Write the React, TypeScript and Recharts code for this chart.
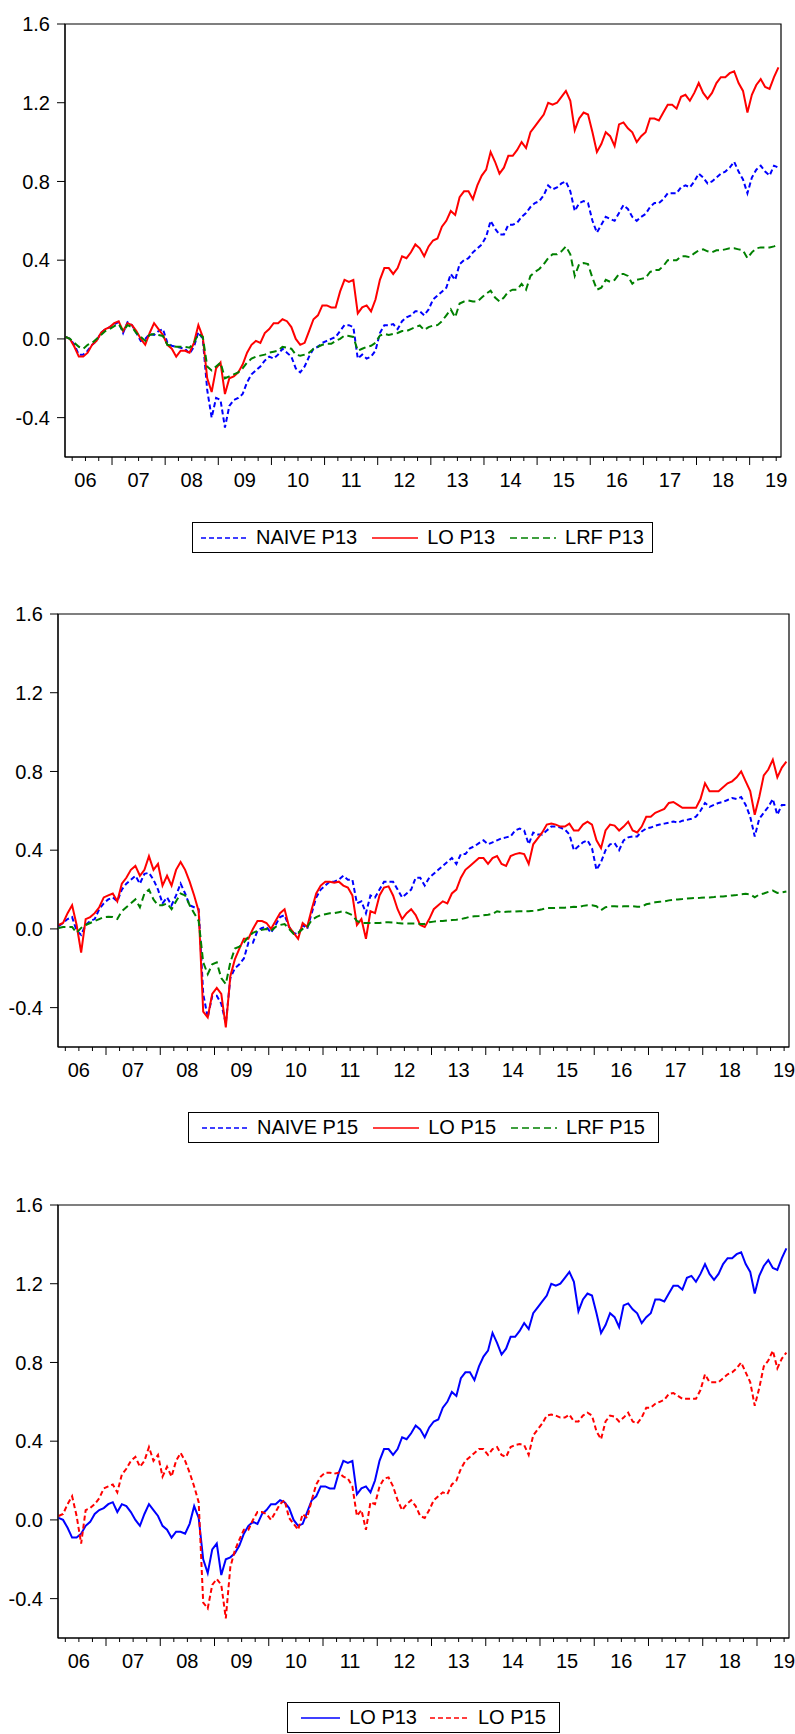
import React from 'react'
import { LineChart, Line, XAxis, YAxis, ReferenceArea } from 'recharts'

// monthly readings, Feb 2006 .. Jul 2019 (162 points)
const START = 2006 + 1.5 / 12

const NAIVE_P13 = [
  0.01, 0.0, -0.03, -0.08, -0.08, -0.06, -0.03, -0.01, 0.03, 0.05,
  0.06, 0.075, 0.085, 0.03, 0.085, 0.07, 0.03, -0.01, 0.0, 0.025,
  0.02, 0.04, 0.05, -0.02, -0.035, -0.04, -0.045, -0.05, -0.075, -0.04,
  0.035, 0.0, -0.26, -0.4, -0.3, -0.31, -0.45, -0.34, -0.31, -0.3,
  -0.28, -0.22, -0.18, -0.16, -0.14, -0.11, -0.09, -0.1, -0.08, -0.05,
  -0.07, -0.09, -0.15, -0.17, -0.14, -0.09, -0.05, -0.04, -0.02, -0.01,
  0.0, 0.01, 0.04, 0.07, 0.07, 0.06, -0.1, -0.08, -0.1, -0.09,
  -0.06, 0.03, 0.07, 0.07, 0.075, 0.05, 0.09, 0.11, 0.12, 0.14,
  0.14, 0.12, 0.15, 0.2, 0.22, 0.24, 0.26, 0.33, 0.3, 0.38,
  0.4, 0.41, 0.44, 0.46, 0.48, 0.52, 0.6, 0.56, 0.53, 0.53,
  0.58, 0.58, 0.59, 0.62, 0.64, 0.67, 0.69, 0.7, 0.73, 0.78,
  0.76, 0.77, 0.79, 0.8, 0.75, 0.65, 0.69, 0.7, 0.69, 0.6,
  0.54, 0.58, 0.62, 0.61, 0.6, 0.64, 0.68, 0.66, 0.62, 0.6,
  0.62, 0.635, 0.67, 0.69, 0.69, 0.71, 0.74, 0.74, 0.74, 0.77,
  0.78, 0.77, 0.8, 0.84, 0.82, 0.79, 0.8, 0.82, 0.84, 0.85,
  0.87, 0.9, 0.85, 0.81, 0.74, 0.82, 0.86, 0.88, 0.85, 0.83,
  0.88, 0.87,
]

const LO_P13 = [
  0.01, 0.0, -0.04, -0.09, -0.09, -0.07, -0.03, -0.01, 0.03, 0.05,
  0.06, 0.08, 0.09, 0.04, 0.08, 0.07, 0.04, 0.0, -0.03, 0.03,
  0.08, 0.05, 0.02, -0.03, -0.05, -0.09, -0.06, -0.06, -0.07, -0.02,
  0.07, 0.01, -0.2, -0.27, -0.15, -0.12, -0.28, -0.2, -0.19, -0.17,
  -0.13, -0.07, -0.03, -0.01, -0.02, 0.03, 0.05, 0.08, 0.08, 0.1,
  0.09, 0.06, 0.0, -0.03, -0.02, 0.04, 0.1, 0.12, 0.17, 0.17,
  0.16, 0.16, 0.24, 0.3, 0.29, 0.3, 0.13, 0.16, 0.17, 0.14,
  0.2, 0.3, 0.36, 0.36, 0.33, 0.36, 0.42, 0.41, 0.44, 0.48,
  0.46, 0.42, 0.47, 0.5, 0.51, 0.57, 0.6, 0.65, 0.63, 0.72,
  0.75, 0.75, 0.71, 0.78, 0.83, 0.86, 0.95, 0.9, 0.84, 0.87,
  0.93, 0.93, 0.96, 1.0, 0.97, 1.05, 1.08, 1.11, 1.14, 1.2,
  1.19, 1.2, 1.23, 1.26, 1.21, 1.06, 1.12, 1.15, 1.14, 1.05,
  0.95, 0.99, 1.05, 1.03, 0.98, 1.09, 1.1, 1.07, 1.05, 1.0,
  1.03, 1.05, 1.12, 1.12, 1.11, 1.15, 1.19, 1.19, 1.17, 1.23,
  1.24, 1.21, 1.25, 1.3, 1.25, 1.22, 1.25, 1.3, 1.33, 1.33,
  1.35, 1.36, 1.3, 1.26, 1.15, 1.24, 1.29, 1.32, 1.28, 1.27,
  1.33, 1.38,
]

const LRF_P13 = [
  0.01, 0.0, -0.02, -0.04, -0.05, -0.03, -0.02, 0.0, 0.02, 0.04,
  0.05, 0.065, 0.075, 0.04, 0.07, 0.06, 0.03, 0.01, -0.01, 0.02,
  0.025, 0.02, 0.015, -0.03, -0.035, -0.04, -0.04, -0.04, -0.045, -0.02,
  0.025, 0.01, -0.14, -0.16, -0.14, -0.12, -0.2, -0.19, -0.18, -0.17,
  -0.15, -0.12, -0.1, -0.09, -0.085, -0.08, -0.07, -0.065, -0.06, -0.04,
  -0.045, -0.05, -0.08, -0.085, -0.08, -0.07, -0.05, -0.04, -0.03, -0.025,
  -0.025, -0.01, 0.0, 0.017, 0.015, 0.01, -0.06, -0.05, -0.04, -0.035,
  -0.02, 0.017, 0.025, 0.02, 0.025, 0.03, 0.04, 0.04, 0.05, 0.06,
  0.068, 0.045, 0.06, 0.068, 0.07, 0.09, 0.12, 0.15, 0.11, 0.18,
  0.19, 0.195, 0.19, 0.19, 0.21, 0.23, 0.245, 0.21, 0.19, 0.21,
  0.24, 0.25, 0.25, 0.28, 0.25, 0.32, 0.34, 0.355, 0.38, 0.41,
  0.43, 0.43, 0.445, 0.47, 0.43, 0.32, 0.38, 0.385, 0.38, 0.31,
  0.25, 0.26, 0.3, 0.29, 0.3, 0.33, 0.33, 0.32, 0.28, 0.3,
  0.305, 0.31, 0.34, 0.35, 0.35, 0.37, 0.4, 0.4, 0.4, 0.42,
  0.42, 0.415, 0.435, 0.45, 0.455, 0.445, 0.44, 0.45, 0.45, 0.455,
  0.46, 0.46, 0.455, 0.45, 0.41, 0.44, 0.46, 0.465, 0.465, 0.465,
  0.47, 0.48,
]

const NAIVE_P15 = [
  0.014, 0.03, 0.05, 0.06, -0.01, -0.03, 0.02, 0.04, 0.05, 0.1,
  0.13, 0.15, 0.16, 0.14, 0.2, 0.23, 0.25, 0.27, 0.23, 0.28,
  0.285, 0.25, 0.2, 0.13, 0.16, 0.12, 0.17, 0.23, 0.18, 0.12,
  0.11, 0.1, -0.33, -0.45, -0.34, -0.34, -0.38, -0.48, -0.25, -0.2,
  -0.18, -0.15, -0.07, -0.07, -0.01, 0.005, 0.01, -0.02, 0.02, 0.06,
  0.07, 0.01, -0.02, -0.03, 0.02, 0.0, 0.08, 0.16, 0.2, 0.22,
  0.24, 0.24, 0.25, 0.27, 0.25, 0.25, 0.13, 0.14, 0.08, 0.17,
  0.16, 0.2, 0.24, 0.24, 0.24, 0.2, 0.16, 0.18, 0.2, 0.26,
  0.26, 0.22, 0.26, 0.28, 0.3, 0.32, 0.34, 0.36, 0.33, 0.38,
  0.38, 0.41, 0.42, 0.436, 0.45, 0.43, 0.44, 0.45, 0.46, 0.465,
  0.47, 0.5, 0.51, 0.5, 0.43, 0.49, 0.48, 0.48, 0.5, 0.52,
  0.52, 0.515, 0.505, 0.48, 0.4, 0.42, 0.44, 0.45, 0.41, 0.3,
  0.34, 0.4, 0.43, 0.436, 0.4, 0.45, 0.465, 0.47, 0.47, 0.495,
  0.51, 0.515, 0.525, 0.53, 0.535, 0.54, 0.545, 0.54, 0.55, 0.554,
  0.56, 0.57, 0.6, 0.64, 0.62, 0.63, 0.64, 0.645, 0.655, 0.665,
  0.66, 0.67, 0.63, 0.57, 0.47, 0.56, 0.59, 0.62, 0.66, 0.58,
  0.63, 0.63,
]

const LO_P15 = [
  0.02, 0.03, 0.08, 0.12, 0.02, -0.12, 0.05, 0.06, 0.08, 0.11,
  0.16, 0.17, 0.18, 0.14, 0.23, 0.26, 0.3, 0.32, 0.27, 0.3,
  0.37, 0.3, 0.33, 0.22, 0.27, 0.22, 0.3, 0.34, 0.3, 0.24,
  0.17, 0.09, -0.42, -0.45, -0.33, -0.3, -0.33, -0.5, -0.24, -0.155,
  -0.1, -0.05, -0.05, 0.0, 0.04, 0.04, 0.03, 0.0, 0.04, 0.08,
  0.1, 0.01, -0.02, -0.05, 0.03, 0.01, 0.1, 0.18, 0.22, 0.24,
  0.24, 0.235, 0.24, 0.22, 0.21, 0.17, 0.02, 0.05, -0.05, 0.09,
  0.08, 0.17, 0.21, 0.216, 0.17, 0.1, 0.05, 0.08, 0.1, 0.07,
  0.02, 0.01, 0.05, 0.1, 0.12, 0.14, 0.13, 0.18, 0.2, 0.26,
  0.3, 0.32, 0.34, 0.36, 0.36, 0.33, 0.36, 0.37, 0.33, 0.32,
  0.37, 0.38, 0.385, 0.38, 0.33, 0.43, 0.46, 0.49, 0.53, 0.535,
  0.53, 0.52, 0.52, 0.535, 0.5, 0.5, 0.53, 0.545, 0.53, 0.45,
  0.41, 0.5, 0.53, 0.525, 0.5, 0.52, 0.545, 0.5, 0.49, 0.52,
  0.57, 0.57, 0.59, 0.6, 0.61, 0.64, 0.645, 0.63, 0.615, 0.615,
  0.615, 0.615, 0.66, 0.74, 0.7, 0.7, 0.7, 0.72, 0.74, 0.75,
  0.77, 0.8, 0.75, 0.7, 0.58, 0.67, 0.78, 0.81, 0.86, 0.77,
  0.82, 0.85,
]

const LRF_P15 = [
  0.005, 0.01, 0.01, 0.01, -0.02, 0.005, 0.02, 0.03, 0.04, 0.05,
  0.06, 0.062, 0.06, 0.05, 0.09, 0.11, 0.13, 0.15, 0.11, 0.18,
  0.2, 0.15, 0.12, 0.12, 0.13, 0.1, 0.14, 0.18, 0.17, 0.12,
  0.08, 0.04, -0.17, -0.23, -0.18, -0.17, -0.25, -0.28, -0.17, -0.1,
  -0.09, -0.07, -0.04, -0.02, -0.01, -0.005, 0.0, -0.01, 0.01, 0.02,
  0.025, 0.0, -0.025, -0.02, 0.0, 0.01, 0.045, 0.06, 0.07, 0.075,
  0.08, 0.08, 0.085, 0.09, 0.08, 0.07, 0.04, 0.03, 0.03, 0.03,
  0.03, 0.03, 0.034, 0.034, 0.033, 0.03, 0.028, 0.028, 0.027, 0.027,
  0.025, 0.025, 0.034, 0.037, 0.04, 0.04, 0.043, 0.045, 0.047, 0.05,
  0.055, 0.062, 0.064, 0.066, 0.07, 0.072, 0.076, 0.09, 0.085, 0.087,
  0.088, 0.088, 0.09, 0.09, 0.09, 0.092, 0.095, 0.1, 0.106, 0.106,
  0.107, 0.107, 0.108, 0.11, 0.113, 0.11, 0.117, 0.12, 0.12, 0.115,
  0.095, 0.11, 0.115, 0.115, 0.113, 0.115, 0.115, 0.115, 0.113, 0.112,
  0.125, 0.13, 0.135, 0.138, 0.14, 0.145, 0.148, 0.15, 0.152, 0.155,
  0.156, 0.157, 0.158, 0.16, 0.16, 0.162, 0.165, 0.165, 0.168, 0.17,
  0.172, 0.176, 0.178, 0.176, 0.16, 0.175, 0.18, 0.188, 0.195, 0.183,
  0.186, 0.19,
]

const Y_TICKS = [-0.4, 0.0, 0.4, 0.8, 1.2, 1.6]
const Y_DOMAIN: [number, number] = [-0.6, 1.6]
const X_DOMAIN: [number, number] = [2006.115, 2019.59]

// quarter ticks, labels sit on the mid-year ones
const QUARTER_TICKS: number[] = []
for (let yr = 2006; yr <= 2019; yr++) {
  for (let q = 0; q < 4; q++) {
    const v = yr + q / 4
    if (v >= X_DOMAIN[0] && v <= X_DOMAIN[1]) QUARTER_TICKS.push(v)
  }
}

const rows = LO_P13.map((_v, i) => ({
  t: START + i / 12,
  naive13: NAIVE_P13[i],
  lo13: LO_P13[i],
  lrf13: LRF_P13[i],
  naive15: NAIVE_P15[i],
  lo15: LO_P15[i],
  lrf15: LRF_P15[i],
}))

const FONT = '"Liberation Sans", Arial, sans-serif'
const BLUE = '#0000ff'
const RED = '#ff0000'
const GREEN = '#008000'

function YearTick({ x, y, payload }: any) {
  const v = payload.value as number
  const major = Math.abs(v - Math.round(v)) < 1e-6
  const mid = Math.abs(v - Math.floor(v) - 0.5) < 1e-6
  return (
    <g>
      <line x1={x} y1={y} x2={x} y2={y + (major ? 8 : 4)} stroke="#000" strokeWidth={1} />
      {mid && (
        <text x={x} y={y + 30} textAnchor="middle" fontSize={20} fill="#000" fontFamily={FONT}>
          {String(Math.floor(v) % 100).padStart(2, '0')}
        </text>
      )}
    </g>
  )
}

interface Series {
  key: string
  name: string
  color: string
  dash?: string
}

interface PanelProps {
  top: number
  axisWidth: number
  right: number
  series: Series[]
}

function Panel({ top, axisWidth, right, series }: PanelProps) {
  return (
    <div style={{ position: 'absolute', left: 0, top }}>
      <LineChart width={795} height={490} data={rows} margin={{ top: 24, right, bottom: 3, left: 0 }}>
        <XAxis
          type="number"
          dataKey="t"
          domain={X_DOMAIN}
          allowDataOverflow
          ticks={QUARTER_TICKS}
          interval={0}
          tick={<YearTick />}
          tickLine={false}
          tickSize={0}
          tickMargin={0}
          height={30}
          stroke="#000"
        />
        <YAxis
          type="number"
          domain={Y_DOMAIN}
          ticks={Y_TICKS}
          width={axisWidth}
          tickSize={8}
          tickMargin={7}
          tickFormatter={(v: number) => v.toFixed(1)}
          tick={{ fill: '#000', fontSize: 20, fontFamily: FONT }}
          stroke="#000"
        />
        <ReferenceArea
          x1={X_DOMAIN[0]}
          x2={X_DOMAIN[1]}
          y1={Y_DOMAIN[0]}
          y2={Y_DOMAIN[1]}
          fill="none"
          stroke="#000"
          strokeWidth={1.2}
        />
        {series.map((s) => (
          <Line
            key={s.key}
            type="linear"
            dataKey={s.key}
            name={s.name}
            stroke={s.color}
            strokeWidth={2}
            strokeDasharray={s.dash}
            dot={false}
            isAnimationActive={false}
          />
        ))}
      </LineChart>
    </div>
  )
}

function LegendBox({ left, top, width, items, sampleW, gap }: { left: number; top: number; width: number; items: Series[]; sampleW: number; gap: number }) {
  return (
    <div
      style={{
        position: 'absolute',
        left,
        top,
        width,
        height: 31,
        boxSizing: 'border-box',
        border: '1.3px solid #000',
        display: 'flex',
        alignItems: 'center',
        justifyContent: 'center',
        fontFamily: FONT,
        fontSize: 20,
        color: '#000',
        whiteSpace: 'nowrap',
      }}
    >
      {items.map((it, k) => (
        <div key={it.key} style={{ display: 'flex', alignItems: 'center', marginLeft: k ? gap : 0 }}>
          <svg width={sampleW} height={10}>
            <line x1={0} y1={5} x2={sampleW} y2={5} stroke={it.color} strokeWidth={1.5} strokeDasharray={it.dash} />
          </svg>
          <span style={{ marginLeft: 9 }}>{it.name}</span>
        </div>
      ))}
    </div>
  )
}

const P13: Series[] = [
  { key: 'naive13', name: 'NAIVE P13', color: BLUE, dash: '5 3' },
  { key: 'lo13', name: 'LO P13', color: RED },
  { key: 'lrf13', name: 'LRF P13', color: GREEN, dash: '7 4' },
]

const P15: Series[] = [
  { key: 'naive15', name: 'NAIVE P15', color: BLUE, dash: '5 3' },
  { key: 'lo15', name: 'LO P15', color: RED },
  { key: 'lrf15', name: 'LRF P15', color: GREEN, dash: '7 4' },
]

const LO_BOTH: Series[] = [
  { key: 'lo13', name: 'LO P13', color: BLUE },
  { key: 'lo15', name: 'LO P15', color: RED, dash: '5 3' },
]

export default function App() {
  return (
    <div style={{ position: 'absolute', left: 0, top: 0, width: 795, height: 1734, background: '#fff' }}>
      <Panel top={0} axisWidth={65} right={14} series={P13} />
      <LegendBox left={192} top={522} width={461} items={P13} sampleW={46} gap={15} />

      <Panel top={590} axisWidth={58} right={6} series={P15} />
      <LegendBox left={188} top={1112} width={471} items={P15} sampleW={46} gap={15} />

      <Panel top={1181} axisWidth={58} right={6} series={LO_BOTH} />
      <LegendBox left={287} top={1702} width={273} items={LO_BOTH} sampleW={39} gap={13} />
    </div>
  )
}
